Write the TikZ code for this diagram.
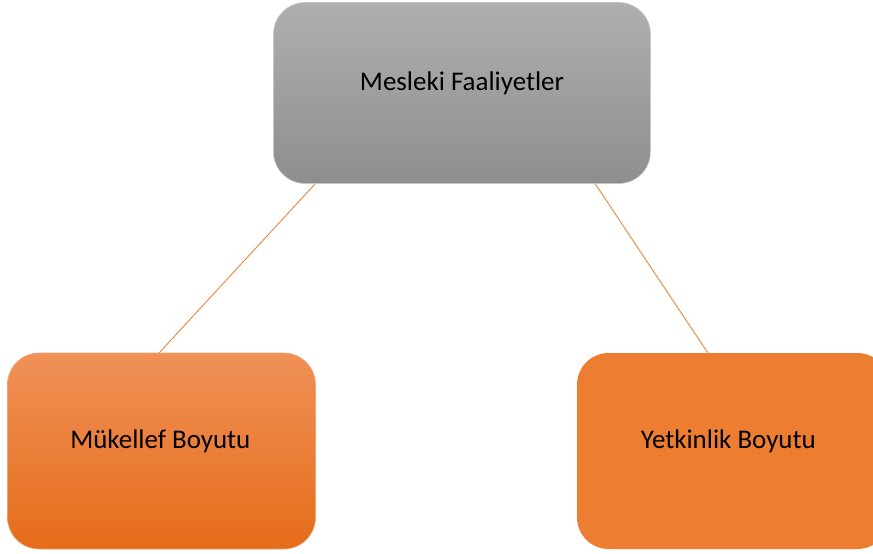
\documentclass[tikz,border=0pt]{standalone}
\usepackage{fontspec}
\setmainfont{Carlito}
\usetikzlibrary{calc}
\definecolor{accent}{HTML}{ED7D31}
\definecolor{greytop}{HTML}{AFAFAF}
\definecolor{greybot}{HTML}{8E8E8E}
\definecolor{orangetop}{HTML}{F09158}
\definecolor{orangebot}{HTML}{E56C19}
\begin{document}
\begin{tikzpicture}[x=0.03cm,y=-0.03cm,
  box/.style={rounded corners=0.95cm, inner sep=0pt},
  caption/.style={font=\fontsize{23}{27}\selectfont, text=black, yshift=8pt},
  link/.style={draw=accent, line width=0.7pt}]
\useasboundingbox (0,0) rectangle (873,553);
\clip (0,0) rectangle (873,553);
% top box: grey gradient
\node[box, minimum width=377*0.03cm, minimum height=181*0.03cm,
      top color=greytop, bottom color=greybot, draw=black!22, line width=0.5pt,
      label={[caption]center:Mesleki Faaliyetler}]
      (top) at (462,93) {};
% lower left box: orange gradient
\node[box, minimum width=308*0.03cm, minimum height=196*0.03cm,
      top color=orangetop, bottom color=orangebot, draw=accent!70!white, line width=0.5pt,
      label={[caption, xshift=-1pt]center:Mükellef Boyutu}]
      (left) at (161.5,451) {};
% lower right box: flat orange
\node[box, minimum width=312*0.03cm, minimum height=196*0.03cm, fill=accent,
      label={[caption, xshift=-4pt]center:Yetkinlik Boyutu}]
      (right) at (733,451) {};
% connectors
\draw[link] ($(top.south west)+(42,0)$) -- ($(left.north west)+(152,0)$);
\draw[link] ($(top.south west)+(322,0)$) -- ($(right.north west)+(131,0)$);
\end{tikzpicture}
\end{document}
